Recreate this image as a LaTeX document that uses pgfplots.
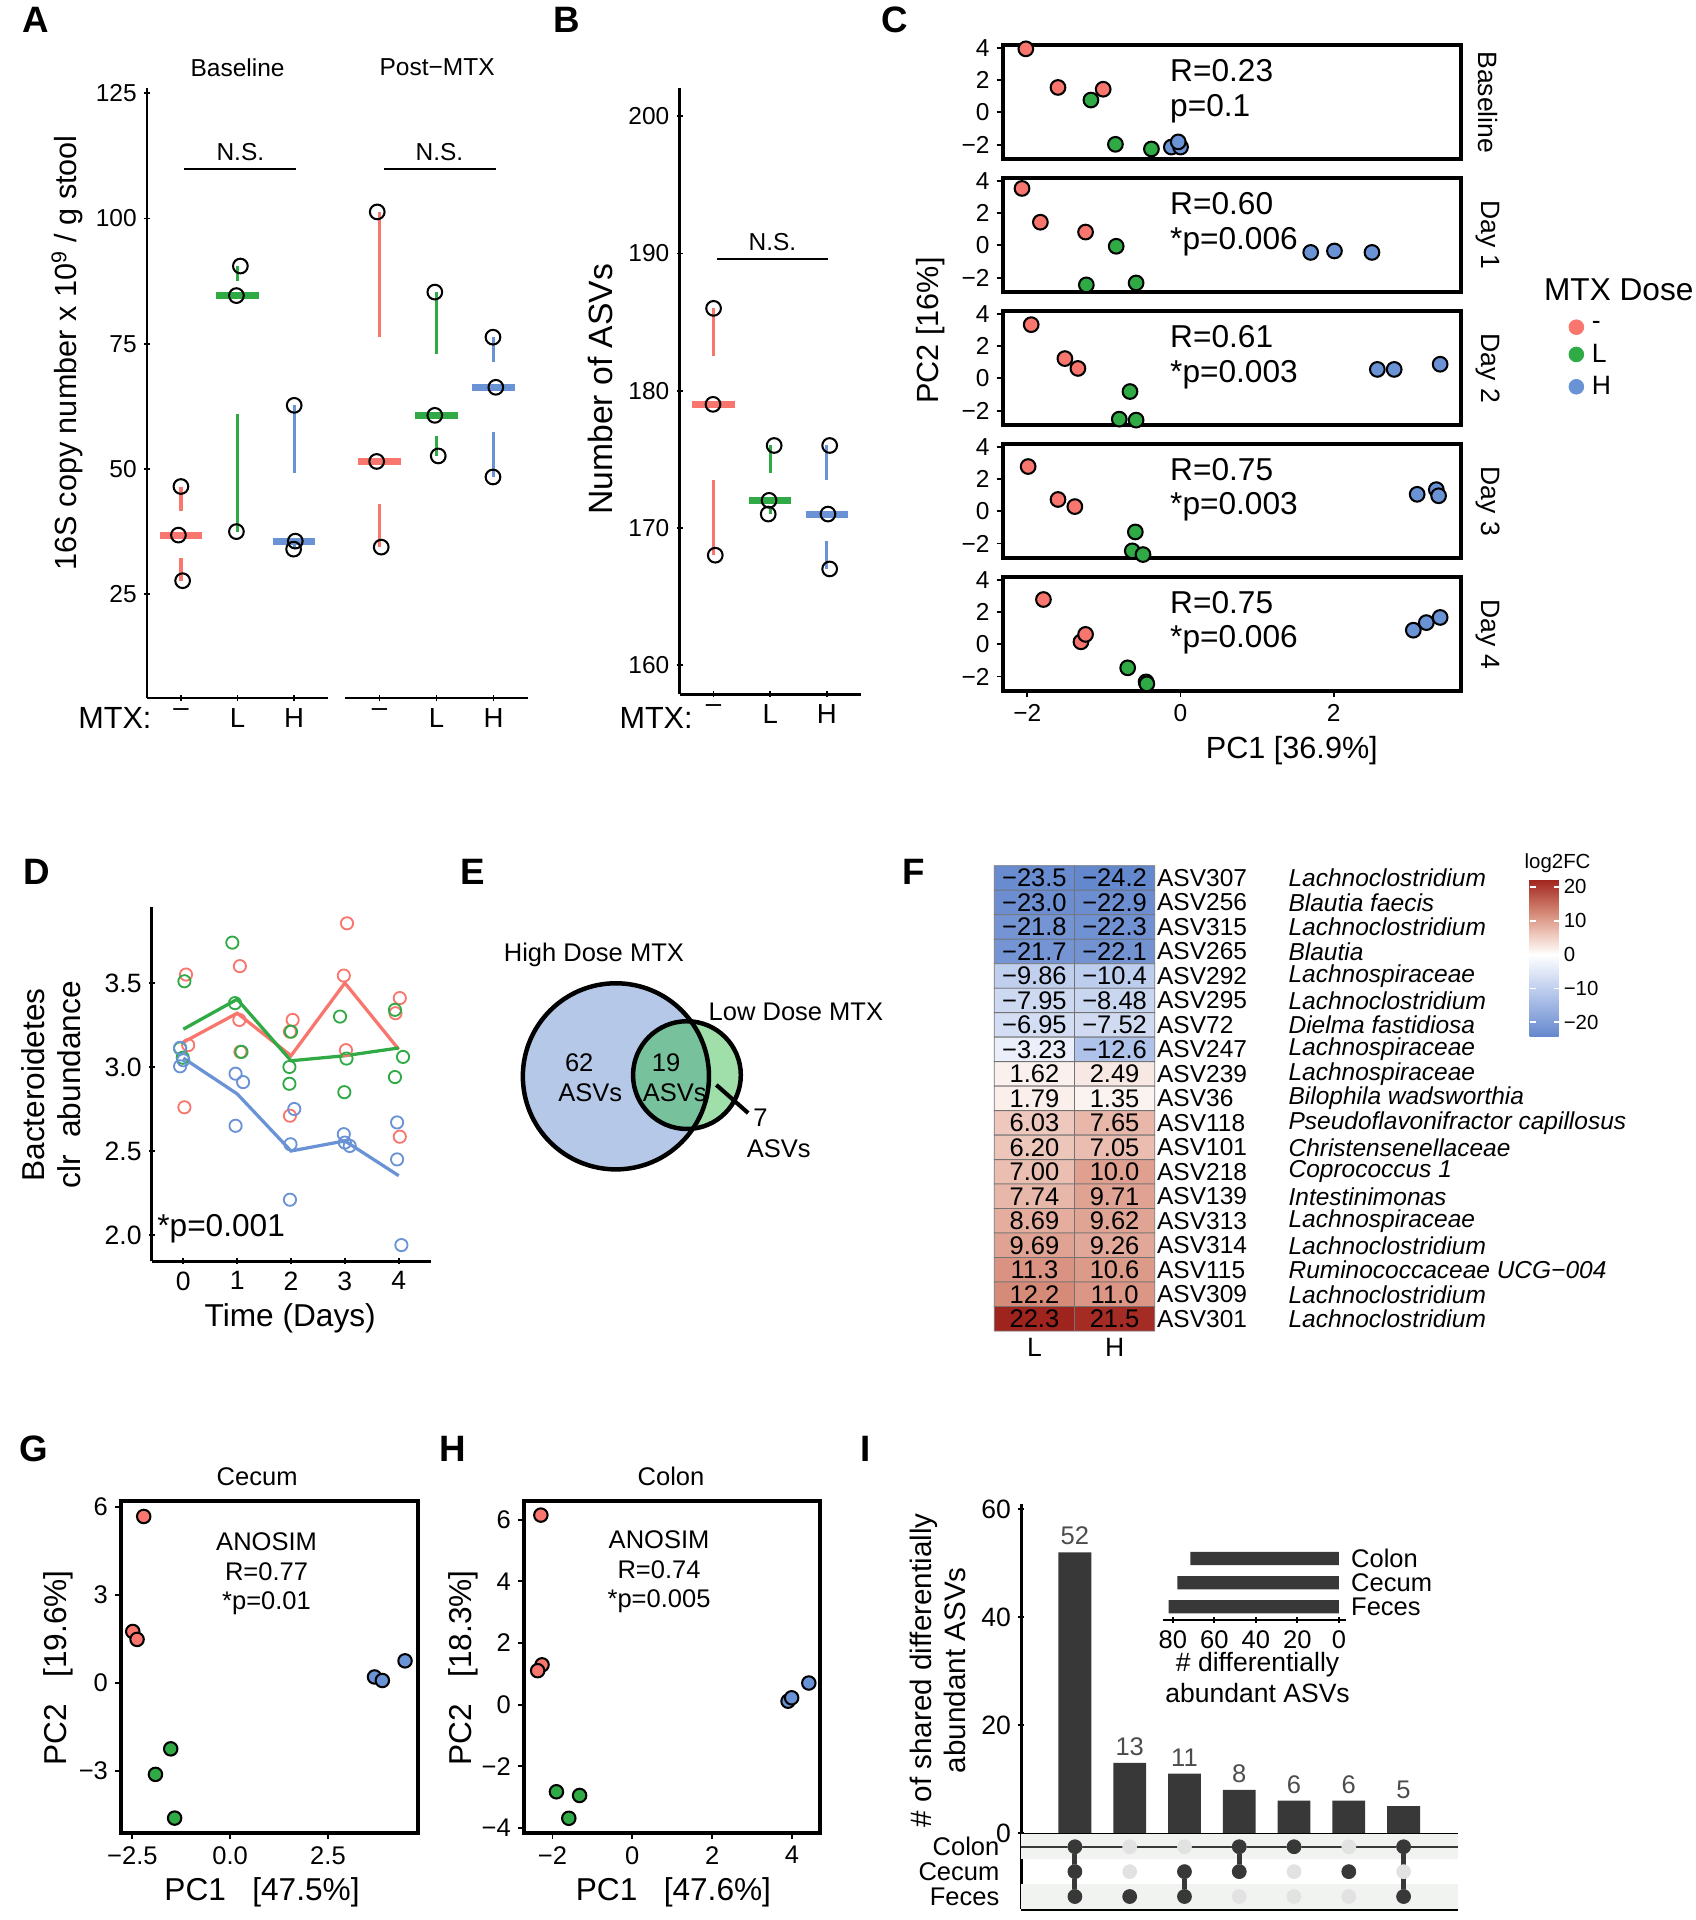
\documentclass[border=0pt]{standalone}
\usepackage{fontspec}
\setmainfont{Liberation Sans}
\usepackage{pgfplots}
\usepackage{pgfplotstable}
\pgfplotsset{compat=1.18}

\definecolor{cr}{HTML}{F8766D}
\definecolor{cg}{HTML}{30AA45}
\definecolor{cb}{HTML}{6A93D6}
\definecolor{dk}{HTML}{383838}
\definecolor{venb}{HTML}{B5C8E8}
\definecolor{veng}{HTML}{77C29C}
\definecolor{venl}{HTML}{A0DEAA}
\definecolor{band}{HTML}{F0F3F0}
\definecolor{dotoff}{HTML}{E2E2E2}

\newcommand\fs[1]{\fontsize{#1}{\fpeval{1.15*#1}}\selectfont}
\newcommand\px[1]{\fpeval{0.6*(#1)}pt}

\pgfplotsset{
  every axis/.append style={scale only axis, enlargelimits=false, clip=false,
    unbounded coords=jump,
    /pgf/number format/assume math mode=true,
    tick label style={font=\fs{12}},
    axis line style={line width=1.4pt},
    tick style={black, line width=0.9pt},
    major tick length=\px{5}, tick align=outside},
  every non boxed x axis/.append style={x axis line style={-}},
  every non boxed y axis/.append style={y axis line style={-}},
  oc/.style={only marks, mark=o, mark size=3.6pt, mark options={draw=black, line width=1pt}},
  whisk/.style={#1, line width=1.6pt},
  med/.style={#1, line width=3.4pt},
  cpt/.style={only marks, mark=*, mark size=3.6pt, mark options={draw=black, fill=#1, line width=1pt}},
  gpt/.style={only marks, mark=*, mark size=3.3pt, mark options={draw=black, fill=#1, line width=1pt}},
  dpt/.style={only marks, mark=o, mark size=3pt, mark options={draw=#1, line width=0.9pt}},
  cfacet/.style={anchor=north west, width=\px{374}, height=\px{93},
    xmin=-2.32, xmax=3.66, ymin=-2.9, ymax=4.15,
    axis line style={line width=1.8pt}, tick pos=left,
    ytick={-2,0,2,4}, yticklabels={−2,0,2,4}, xtick=\empty},
  colormap={hm}{rgb255(0pt)=(100,136,205); rgb255(120pt)=(178,196,234); rgb255(242pt)=(255,255,255);
    rgb255(302pt)=(238,200,188); rgb255(362pt)=(215,140,122); rgb255(465pt)=(160,36,30)},
}

\pgfplotstableread{
x y v lab
0 0 -23.5 −23.5
1 0 -24.2 −24.2
0 1 -23.0 −23.0
1 1 -22.9 −22.9
0 2 -21.8 −21.8
1 2 -22.3 −22.3
0 3 -21.7 −21.7
1 3 -22.1 −22.1
0 4 -9.86 −9.86
1 4 -10.4 −10.4
0 5 -7.95 −7.95
1 5 -8.48 −8.48
0 6 -6.95 −6.95
1 6 -7.52 −7.52
0 7 -3.23 −3.23
1 7 -12.6 −12.6
0 8 1.62 1.62
1 8 2.49 2.49
0 9 1.79 1.79
1 9 1.35 1.35
0 10 6.03 6.03
1 10 7.65 7.65
0 11 6.20 6.20
1 11 7.05 7.05
0 12 7.00 7.00
1 12 10.0 10.0
0 13 7.74 7.74
1 13 9.71 9.71
0 14 8.69 8.69
1 14 9.62 9.62
0 15 9.69 9.69
1 15 9.26 9.26
0 16 11.3 11.3
1 16 10.6 10.6
0 17 12.2 12.2
1 17 11.0 11.0
0 18 22.3 22.3
1 18 21.5 21.5
}\hmtab

\begin{document}
\begin{tikzpicture}[x=0.6pt, y=-0.6pt, tx/.style={inner sep=0pt}]
\path[use as bounding box] (0,0) rectangle (1385,1568);

% panel letters
\foreach \l/\x/\y in {A/29/16, B/463/16, C/731/16, D/30/712, E/386/712, F/746/712, G/28/1183, H/370/1183, I/707/1183}
  \node[tx, font=\fs{18}\bfseries] at (\x,\y) {\l};

% ---------------- A ----------------
\begin{axis}[at={(\px{120},-\px{570})}, anchor=south west, width=\px{148}, height=\px{498},
  xmin=0.4, xmax=3.6, ymin=4.3, ymax=126,
  axis x line=bottom, axis y line=left,
  xtick={1,2,3}, xticklabels={–,L,H}, x tick label style={font=\fs{13.5}},
  ytick={25,50,75,100,125}]
\addplot[whisk=cr] coordinates {(1,46.5)(1,41.65)(1,nan)(1,32.25)(1,27.7)};
\addplot[med=cr] coordinates {(0.625,36.8)(1.375,36.8)};
\addplot[whisk=cg] coordinates {(2,90.5)(2,87.55)(2,nan)(2,61.05)(2,37.5)};
\addplot[med=cg] coordinates {(1.625,84.6)(2.375,84.6)};
\addplot[whisk=cb] coordinates {(3,62.7)(3,49.15)(3,nan)(3,34.8)(3,34.0)};
\addplot[med=cb] coordinates {(2.625,35.6)(3.375,35.6)};
\addplot[oc] coordinates {(1,46.5)(0.956,36.8)(1.03,27.7)(2.05,90.5)(1.98,84.6)(1.98,37.5)(3,62.7)(3.02,35.6)(2.99,34.0)};
\draw[line width=0.8pt] (axis cs:1.06,109.9) -- (axis cs:3.03,109.9);
\node[tx, font=\fs{12}] at (axis cs:2.05,113.3) {N.S.};
\end{axis}

\begin{axis}[at={(\px{282},-\px{570})}, anchor=south west, width=\px{149}, height=\px{498},
  xmin=0.4, xmax=3.6, ymin=4.3, ymax=126,
  axis x line=bottom, axis y line=none,
  xtick={1,2,3}, xticklabels={–,L,H}, x tick label style={font=\fs{13.5}}, ytick=\empty]
\addplot[whisk=cr] coordinates {(1,101.3)(1,76.4)(1,nan)(1,42.95)(1,34.4)};
\addplot[med=cr] coordinates {(0.625,51.5)(1.375,51.5)};
\addplot[whisk=cg] coordinates {(2,85.3)(2,73.0)(2,nan)(2,56.65)(2,52.6)};
\addplot[med=cg] coordinates {(1.625,60.7)(2.375,60.7)};
\addplot[whisk=cb] coordinates {(3,76.3)(3,71.3)(3,nan)(3,57.35)(3,48.4)};
\addplot[med=cb] coordinates {(2.625,66.3)(3.375,66.3)};
\addplot[oc] coordinates {(0.96,101.3)(0.95,51.5)(1.03,34.4)(1.97,85.3)(1.97,60.7)(2.03,52.6)(2.99,76.3)(3.04,66.3)(2.99,48.4)};
\draw[line width=0.8pt] (axis cs:1.07,109.9) -- (axis cs:3.04,109.9);
\node[tx, font=\fs{12}] at (axis cs:2.05,113.3) {N.S.};
\end{axis}
\node[tx, font=\fs{12}] at (194,55) {Baseline};
\node[tx, font=\fs{12}] at (357,55) {Post−MTX};
\node[tx, anchor=east, font=\fs{15}] at (124,586) {MTX:};
\node[tx, rotate=90, font=\fs{15}] at (55,288) {16S copy number x 10\textsuperscript{9} / g stool};

% ---------------- B ----------------
\begin{axis}[at={(\px{555},-\px{567})}, anchor=south west, width=\px{148}, height=\px{495.5},
  xmin=0.4, xmax=3.6, ymin=157.86, ymax=202.1,
  axis x line=bottom, axis y line=left,
  xtick={1,2,3}, xticklabels={–,L,H}, x tick label style={font=\fs{13.5}},
  ytick={160,170,180,190,200}]
\addplot[whisk=cr] coordinates {(1,186)(1,182.5)(1,nan)(1,173.5)(1,168)};
\addplot[med=cr] coordinates {(0.625,179)(1.375,179)};
\addplot[whisk=cg] coordinates {(2,176)(2,174)(2,nan)(2,171.5)(2,171)};
\addplot[med=cg] coordinates {(1.625,172)(2.375,172)};
\addplot[whisk=cb] coordinates {(3,176)(3,173.5)(3,nan)(3,169)(3,167)};
\addplot[med=cb] coordinates {(2.625,171)(3.375,171)};
\addplot[oc] coordinates {(1,186)(0.99,179)(1.03,168)(2.07,176)(1.98,172)(1.965,171)(3.05,176)(3.02,171)(3.05,167)};
\draw[line width=0.8pt] (axis cs:1.06,189.6) -- (axis cs:3.02,189.6);
\node[tx, font=\fs{12}] at (axis cs:2.04,190.8) {N.S.};
\end{axis}
\node[tx, anchor=east, font=\fs{15}] at (566,586) {MTX:};
\node[tx, rotate=90, font=\fs{16.5}] at (490,318) {Number of ASVs};

% ---------------- C ----------------
\begin{axis}[cfacet, at={(\px{819},-\px{37})}]
\addplot[cpt=cr] coordinates {(-2.02,3.93)(-1.6,1.54)(-1.01,1.43)};
\addplot[cpt=cg] coordinates {(-1.17,0.76)(-0.85,-1.98)(-0.38,-2.27)};
\addplot[cpt=cb] coordinates {(-0.12,-2.15)(0.0,-2.15)(-0.03,-1.83)};
\node[tx, anchor=west, font=\fs{15.5}] at (axis cs:-0.14,2.6) {R=0.23};
\node[tx, anchor=west, font=\fs{15.5}] at (axis cs:-0.14,0.25) {p=0.1};
\end{axis}
\begin{axis}[cfacet, at={(\px{819},-\px{145.6})}]
\addplot[cpt=cr] coordinates {(-2.07,3.52)(-1.83,1.43)(-1.24,0.82)};
\addplot[cpt=cg] coordinates {(-0.84,-0.06)(-1.23,-2.45)(-0.58,-2.33)};
\addplot[cpt=cb] coordinates {(1.7,-0.44)(2.01,-0.35)(2.5,-0.44)};
\node[tx, anchor=west, font=\fs{15.5}] at (axis cs:-0.14,2.6) {R=0.60};
\node[tx, anchor=west, font=\fs{15.5}] at (axis cs:-0.14,0.25) {*p=0.006};
\end{axis}
\begin{axis}[cfacet, at={(\px{819},-\px{254.2})},
  legend style={at={(1.222,0.97)}, anchor=north west, draw=none, fill=none,
    font=\fs{13}, nodes={inner xsep=4pt, inner ysep=1.2pt}, row sep=3pt},
  legend cell align=left]
\addplot[cpt=cr, forget plot] coordinates {(-1.95,3.32)(-1.51,1.22)(-1.34,0.61)};
\addplot[cpt=cg, forget plot] coordinates {(-0.66,-0.82)(-0.8,-2.53)(-0.58,-2.59)};
\addplot[cpt=cb, forget plot] coordinates {(2.57,0.55)(2.79,0.55)(3.39,0.87)};
\addlegendimage{only marks, mark=*, mark size=3.6pt, color=cr}
\addlegendentry{-}
\addlegendimage{only marks, mark=*, mark size=3.6pt, color=cg}
\addlegendentry{L}
\addlegendimage{only marks, mark=*, mark size=3.6pt, color=cb}
\addlegendentry{H}
\node[tx, anchor=west, font=\fs{15.5}] at (axis cs:-0.14,2.6) {R=0.61};
\node[tx, anchor=west, font=\fs{15.5}] at (axis cs:-0.14,0.25) {*p=0.003};
\end{axis}
\begin{axis}[cfacet, at={(\px{819},-\px{362.8})}]
\addplot[cpt=cr] coordinates {(-1.99,2.77)(-1.6,0.73)(-1.38,0.29)};
\addplot[cpt=cg] coordinates {(-0.59,-1.28)(-0.63,-2.45)(-0.49,-2.68)};
\addplot[cpt=cb] coordinates {(3.09,1.05)(3.34,1.34)(3.37,0.96)};
\node[tx, anchor=west, font=\fs{15.5}] at (axis cs:-0.14,2.6) {R=0.75};
\node[tx, anchor=west, font=\fs{15.5}] at (axis cs:-0.14,0.25) {*p=0.003};
\end{axis}
\begin{axis}[cfacet, at={(\px{819},-\px{471.4})}, xtick={-2,0,2}, xticklabels={−2,0,2}]
\addplot[cpt=cr] coordinates {(-1.79,2.77)(-1.3,0.15)(-1.24,0.61)};
\addplot[cpt=cg] coordinates {(-0.69,-1.46)(-0.45,-2.33)(-0.44,-2.45)};
\addplot[cpt=cb] coordinates {(3.04,0.87)(3.21,1.34)(3.39,1.66)};
\node[tx, anchor=west, font=\fs{15.5}] at (axis cs:-0.14,2.6) {R=0.75};
\node[tx, anchor=west, font=\fs{15.5}] at (axis cs:-0.14,0.25) {*p=0.006};
\end{axis}
\foreach \s/\y in {Baseline/83.5, Day 1/192, Day 2/300.7, Day 3/409.3, Day 4/518}
  \node[tx, rotate=-90, font=\fs{13}] at (1215,\y) {\s};
\node[tx, rotate=90, font=\fs{15}] at (760,270) {PC2 [16\%]};
\node[tx, font=\fs{15}] at (1055,613) {PC1 [36.9\%]};
\node[tx, font=\fs{15.5}] at (1322,237) {MTX Dose};

% ---------------- D ----------------
\begin{axis}[at={(\px{124},-\px{1030})}, anchor=south west, width=\px{228}, height=\px{289},
  xmin=-0.585, xmax=4.6, ymin=1.844, ymax=3.95,
  axis x line=bottom, axis y line=left,
  xtick={0,1,2,3,4}, ytick={2,2.5,3,3.5}, yticklabels={2.0,2.5,3.0,3.5},
  tick label style={font=\fs{13}}]
\addplot[dpt=cr] coordinates {(0.05,3.55)(0.09,3.13)(0.02,2.76)(1.05,3.60)(1.04,3.28)(1.06,3.09)(2.03,3.28)(1.98,3.21)(1.98,2.71)(3.04,3.855)(2.98,3.544)(3.02,3.10)(4.02,3.41)(3.94,3.32)(4.02,2.585)};
\addplot[dpt=cg] coordinates {(0.02,3.51)(-0.06,3.11)(-0.01,3.055)(0.91,3.74)(0.96,3.38)(1.08,3.09)(2,3.21)(1.97,3.0)(1.97,2.90)(2.91,3.30)(3.03,3.05)(2.99,2.85)(3.93,3.34)(4.08,3.06)(3.93,2.94)};
\addplot[dpt=cb] coordinates {(-0.06,3.114)(-0.06,3.004)(0,3.04)(0.97,2.96)(1.11,2.91)(0.97,2.65)(1.99,2.54)(2.06,2.75)(1.98,2.21)(2.98,2.60)(3,2.55)(3.09,2.53)(3.97,2.67)(3.97,2.45)(4.05,1.94)};
\addplot[cr, line width=1.6pt] coordinates {(0,3.147)(1,3.32)(2,3.067)(3,3.50)(4,3.105)};
\addplot[cg, line width=1.6pt] coordinates {(0,3.225)(1,3.403)(2,3.037)(3,3.067)(4,3.113)};
\addplot[cb, line width=1.6pt] coordinates {(0,3.053)(1,2.84)(2,2.50)(3,2.56)(4,2.353)};
\node[tx, anchor=west, font=\fs{15.5}] at (axis cs:-0.49,2.04) {*p=0.001};
\end{axis}
\node[tx, rotate=90, align=center, font=\fs{15.5}] at (42,886) {Bacteroidetes\\clr\ \ abundance};
\node[tx, font=\fs{15.5}] at (237,1077) {Time (Days)};

% ---------------- E ----------------
\begin{axis}[at={(\px{425},-\px{965})}, anchor=south west, width=\px{180}, height=\px{180},
  xmin=0, xmax=180, ymin=0, ymax=180, hide axis]
\fill[venl] (axis cs:136,87) circle[radius=44];
\fill[venb] (axis cs:78,86) circle[radius=76];
\pgfplotsextra{%
  \begin{scope}
    \clip (axis cs:78,86) circle[radius=76];
    \fill[veng] (axis cs:136,87) circle[radius=44];
  \end{scope}}
\draw[line width=2.2pt] (axis cs:78,86) circle[radius=76];
\draw[line width=2.2pt] (axis cs:136,87) circle[radius=44];
\draw[line width=2pt] (axis cs:160,79) -- (axis cs:186,56);
\end{axis}
\node[tx, font=\fs{12.5}] at (485,780) {High Dose MTX};
\node[tx, font=\fs{12.5}] at (650,826) {Low Dose MTX};
\node[tx, font=\fs{12.5}] at (473,868) {62};
\node[tx, font=\fs{12.5}] at (482,892) {ASVs};
\node[tx, font=\fs{12.5}] at (544,868) {19};
\node[tx, font=\fs{12.5}] at (551,892) {ASVs};
\node[tx, font=\fs{12.5}] at (621,913) {7};
\node[tx, font=\fs{12.5}] at (636,938) {ASVs};

% ---------------- F ----------------
\begin{axis}[at={(\px{812},-\px{707})}, anchor=north west, width=\px{131}, height=\px{380},
  xmin=-0.5, xmax=1.5, ymin=-0.5, ymax=18.5, y dir=reverse,
  axis line style={draw=none}, major tick length=0pt,
  xtick={0,1}, xticklabels={L,H}, x tick label style={font=\fs{13}},
  ytick={0,...,18},
  yticklabels={ASV307,ASV256,ASV315,ASV265,ASV292,ASV295,ASV72,ASV247,ASV239,ASV36,ASV118,ASV101,ASV218,ASV139,ASV313,ASV314,ASV115,ASV309,ASV301},
  yticklabel pos=right, y tick label style={font=\fs{12}, anchor=west, inner sep=1pt},
  point meta min=-24.2, point meta max=22.3,
  colorbar,
  colorbar style={at={(parent axis.north east)}, anchor=north west,
    xshift=\px{292}, yshift=-\px{11}, width=\px{25}, height=\px{128.5},
    axis line style={draw=none},
    ytick={-20,-10,0,10,20}, yticklabels={−20,−10,0,10,20},
    major tick length=\px{5}, tick align=inside,
    ytick style={draw=white, line width=0.8pt},
    ytick pos=both, yticklabel pos=right,
    yticklabel style={font=\fs{10}, inner sep=1.5pt}}]
\addplot[matrix plot*, mesh/cols=2, point meta=explicit, shader=faceted, faceted color=black!55]
  table[x=x, y=y, meta=v]{\hmtab};
\addplot[draw=none, mark=none, nodes near coords, nodes near coords align={center},
  point meta=explicit symbolic,
  every node near coord/.append style={anchor=center, font=\fs{12.5}, inner sep=0pt, text=black}]
  table[x=x, y=y, meta=lab]{\hmtab};
\end{axis}
\foreach \t [count=\i from 0] in {Lachnoclostridium, Blautia faecis, Lachnoclostridium, Blautia,
  Lachnospiraceae, Lachnoclostridium, Dielma fastidiosa, Lachnospiraceae, Lachnospiraceae,
  Bilophila wadsworthia, Pseudoflavonifractor capillosus, Christensenellaceae, Coprococcus 1,
  Intestinimonas, Lachnospiraceae, Lachnoclostridium, Ruminococcaceae UCG−004,
  Lachnoclostridium, Lachnoclostridium}
  \node[tx, anchor=west, font=\fs{12}\itshape] at (1052,{717+20*\i}) {\t};
\node[tx, font=\fs{10}] at (1272,705) {log2FC};

% ---------------- G ----------------
\begin{axis}[at={(\px{99},-\px{1497})}, anchor=south west, width=\px{242}, height=\px{271},
  xmin=-2.785, xmax=4.79, ymin=-5.11, ymax=6.2,
  axis line style={line width=2pt}, tick pos=left,
  xtick={-2.5,0,2.5}, xticklabels={−2.5,0.0,2.5},
  ytick={-3,0,3,6}, yticklabels={−3,0,3,6}, tick label style={font=\fs{12.5}}]
\addplot[gpt=cr] coordinates {(-2.21,5.68)(-2.49,1.76)(-2.38,1.49)};
\addplot[gpt=cg] coordinates {(-1.52,-2.24)(-1.91,-3.11)(-1.42,-4.6)};
\addplot[gpt=cb] coordinates {(3.69,0.21)(3.89,0.09)(4.47,0.76)};
\node[tx, align=center, font=\fs{12.5}] at (axis cs:0.93,3.72) {ANOSIM\\R=0.77\\*p=0.01};
\end{axis}
\node[tx, font=\fs{12.5}] at (210,1206) {Cecum};
\node[tx, rotate=90, font=\fs{15.5}] at (48,1362) {PC2\ \ \ [19.6\%]};
\node[tx, font=\fs{15.5}] at (214,1545) {PC1\ \ \ [47.5\%]};

% ---------------- H ----------------
\begin{axis}[at={(\px{428},-\px{1497})}, anchor=south west, width=\px{242}, height=\px{271},
  xmin=-2.71, xmax=4.71, ymin=-4.17, ymax=6.6,
  axis line style={line width=2pt}, tick pos=left,
  xtick={-2,0,2,4}, xticklabels={−2,0,2,4},
  ytick={-4,-2,0,2,4,6}, yticklabels={−4,−2,0,2,4,6}, tick label style={font=\fs{12.5}}]
\addplot[gpt=cr] coordinates {(-2.29,6.15)(-2.26,1.29)(-2.37,1.10)};
\addplot[gpt=cg] coordinates {(-1.9,-2.83)(-1.32,-2.95)(-1.59,-3.69)};
\addplot[gpt=cb] coordinates {(3.9,0.11)(3.99,0.22)(4.42,0.70)};
\node[tx, align=center, font=\fs{12.5}] at (axis cs:0.67,4.31) {ANOSIM\\R=0.74\\*p=0.005};
\end{axis}
\node[tx, font=\fs{12.5}] at (548,1206) {Colon};
\node[tx, rotate=90, font=\fs{15.5}] at (378,1362) {PC2\ \ \ [18.3\%]};
\node[tx, font=\fs{15.5}] at (550,1545) {PC1\ \ \ [47.6\%]};

% ---------------- I ----------------
\begin{axis}[at={(\px{834},-\px{1497})}, anchor=south west, width=\px{357}, height=\px{269},
  xmin=0.02, xmax=8, ymin=0, ymax=61,
  axis x line=none, axis y line=left, xtick=\empty, ytick={0,20,40,60},
  tick label style={font=\fs{13}},
  nodes near coords, every node near coord/.append style={font=\fs{12.5}, text=dk!90}]
\addplot[ybar, bar width=0.6, fill=dk, draw=none] coordinates {(1,52)(2,13)(3,11)(4,8)(5,6)(6,6)(7,5)};
\end{axis}
\begin{axis}[at={(\px{834},-\px{1559})}, anchor=south west, width=\px{357}, height=\px{61},
  xmin=0.02, xmax=8, ymin=0.5, ymax=3.5, y dir=reverse,
  axis x line=box, axis y line=left, axis line style={line width=1.5pt},
  xtick=\empty, ytick={1,2,3}, yticklabels={Colon,Cecum,Feces}, major tick length=0pt,
  y tick label style={font=\fs{12.5}, xshift=-\px{12}}]
\addplot[draw=none, fill=band] coordinates {(0.02,0.5)(8,0.5)(8,1.5)(0.02,1.5)};
\addplot[draw=none, fill=band] coordinates {(0.02,2.5)(8,2.5)(8,3.5)(0.02,3.5)};
\addplot[dk, line width=1.2pt] coordinates {(0.02,1)(8,1)};
\addplot[only marks, mark=*, mark size=3.4pt, color=dotoff] coordinates {(1,1)(1,2)(1,3)(2,1)(2,2)(2,3)(3,1)(3,2)(3,3)(4,1)(4,2)(4,3)(5,1)(5,2)(5,3)(6,1)(6,2)(6,3)(7,1)(7,2)(7,3)};
\addplot[dk, line width=2.4pt] coordinates {(1,1)(1,3)(3,nan)(3,2)(3,3)(4,nan)(4,1)(4,2)(7,nan)(7,1)(7,3)};
\addplot[only marks, mark=*, mark size=3.4pt, color=dk] coordinates {(1,1)(1,2)(1,3)(2,3)(3,2)(3,3)(4,1)(4,2)(5,1)(6,2)(7,1)(7,3)};
\end{axis}
\begin{axis}[at={(\px{950},-\px{1323})}, anchor=south west, width=\px{149}, height=\px{60},
  x dir=reverse, xmin=-3.3, xmax=84.6, ymin=0.45, ymax=3.5,
  axis x line=bottom, axis y line=right, y axis line style={draw=none}, ytick style={draw=none},
  xtick={0,20,40,60,80}, ytick={1,2,3}, yticklabels={Feces,Cecum,Colon},
  tick label style={font=\fs{12.5}}, y tick label style={inner sep=1pt}]
\addplot[xbar, bar width=0.55, fill=dk, draw=none] coordinates {(82,1)(77.8,2)(71.5,3)};
\end{axis}
\node[tx, align=center, font=\fs{13}] at (1027,1370) {\# differentially\\abundant ASVs};
\node[tx, rotate=90, align=center, font=\fs{14.5}] at (766,1364) {\# of shared differentially\\abundant ASVs};

\end{tikzpicture}
\end{document}
